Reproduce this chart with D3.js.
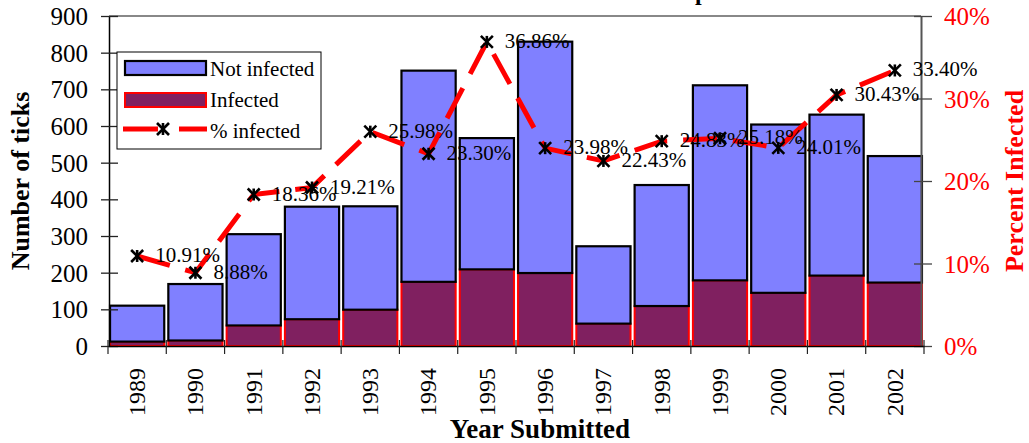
<!DOCTYPE html>
<html>
<head>
<meta charset="utf-8">
<script src="https://cdn.jsdelivr.net/npm/d3@7"></script>
<style>
  html, body { margin: 0; padding: 0; background: #fff; }
  svg { display: block; font-family: "Liberation Serif", "Times New Roman", serif; }
</style>
</head>
<body>
<svg id="chart" width="1029" height="443"></svg>
<script>
// Ticks submitted per year, how many tested infected, and the infection rate
const years = ["1989","1990","1991","1992","1993","1994","1995","1996","1997","1998","1999","2000","2001","2002"];
const infectedTicks = [12, 15, 56, 73, 99, 175, 209, 199, 61, 109, 179, 145, 192, 173];
const notInfectedTicks = [98, 154, 249, 307, 282, 576, 358, 631, 211, 330, 532, 459, 439, 345];
const percentInfected = [10.91, 8.88, 18.36, 19.21, 25.98, 23.30, 36.86, 23.98, 22.43, 24.83, 25.18, 24.01, 30.43, 33.40];
const countTicks = [0, 100, 200, 300, 400, 500, 600, 700, 800, 900];
const percentTicks = [0, 10, 20, 30, 40];

const svg = d3.select("#chart");
const plot = { left: 109, right: 921, top: 16, bottom: 346 };

const x = d3.scaleBand().domain(years).range([108, 924]).paddingInner(0.07).paddingOuter(0.035);
const y = d3.scaleLinear().domain([0, 900]).range([plot.bottom, plot.top]);
const yPct = d3.scaleLinear().domain([0, 40]).range([plot.bottom, plot.top]);

const rows = years.map((yr, i) => ({
  year: yr,
  infected: infectedTicks[i],
  notInfected: notInfectedTicks[i],
  pct: percentInfected[i]
}));

// Chart title (sits above the visible area)
svg.append("text")
  .attr("x", 542).attr("y", 0)
  .attr("text-anchor", "middle")
  .attr("font-weight", "bold").attr("font-size", 24)
  .text("Ticks Submitted and Percent Infected per Year");

// Top border of the plot area
svg.append("line")
  .attr("x1", plot.left).attr("x2", plot.right)
  .attr("y1", plot.top).attr("y2", plot.top)
  .attr("stroke", "#888").attr("stroke-width", 2);

// Infected (bottom) segments
svg.append("g").selectAll("rect").data(rows).join("rect")
  .attr("x", d => x(d.year))
  .attr("width", x.bandwidth())
  .attr("y", d => y(d.infected))
  .attr("height", d => y(0) - y(d.infected))
  .attr("fill", "#802060")
  .attr("stroke", "#ff0000").attr("stroke-width", 2);

// Not infected (upper) segments
svg.append("g").selectAll("rect").data(rows).join("rect")
  .attr("x", d => x(d.year))
  .attr("width", x.bandwidth())
  .attr("y", d => y(d.infected + d.notInfected))
  .attr("height", d => y(d.infected) - y(d.infected + d.notInfected))
  .attr("fill", "#8080ff")
  .attr("stroke", "#000").attr("stroke-width", 2.2);

// Left axis
const gl = svg.append("g").attr("transform", `translate(${plot.left},0)`)
  .call(d3.axisLeft(y).tickValues(countTicks).tickSize(8).tickSizeOuter(0).tickPadding(14));
gl.select(".domain").attr("stroke", "#000").attr("stroke-width", 1.5);
gl.selectAll(".tick line").attr("x2", 9).attr("x1", -8).attr("stroke", "#222").attr("stroke-width", 1.3);
gl.selectAll(".tick text").attr("font-size", 25).attr("font-family", "Liberation Serif, serif").attr("fill", "#000").attr("x", -21).attr("dy", "0.34em");

// Right axis
const gr = svg.append("g").attr("transform", `translate(${plot.right},0)`)
  .call(d3.axisRight(yPct).tickValues(percentTicks).tickFormat(d => d + "%").tickSize(8).tickSizeOuter(0));
gr.select(".domain").attr("stroke", "#555").attr("stroke-width", 2);
gr.selectAll(".tick line").attr("x1", -7).attr("x2", 11).attr("stroke", "#444").attr("stroke-width", 1.3);
gr.selectAll(".tick text").attr("font-size", 25).attr("font-family", "Liberation Serif, serif").attr("fill", "#ff0000").attr("x", 23).attr("dy", "0.34em");

// Bottom axis with ticks at category boundaries
const gb = svg.append("g").attr("transform", `translate(0,${plot.bottom})`)
  .call(d3.axisBottom(x).tickSize(0));
gb.select(".domain").attr("stroke", "#000").attr("stroke-width", 1.5);
gb.selectAll(".tick text")
  .attr("font-size", 24).attr("font-family", "Liberation Serif, serif").attr("fill", "#000")
  .attr("transform", "rotate(-90)")
  .attr("text-anchor", "end")
  .attr("x", -22).attr("y", 0).attr("dy", "0.33em");
const bounds = years.map(yr => x(yr) - x.step() * x.paddingInner() / 2).concat([x(years[years.length - 1]) + x.bandwidth() + x.step() * x.paddingInner() / 2]);
gb.append("g").selectAll("line").data(bounds).join("line")
  .attr("x1", d => d).attr("x2", d => d)
  .attr("y1", -6).attr("y2", 8)
  .attr("stroke", "#222").attr("stroke-width", 1.2);

// Percent infected line
const cx = d => x(d.year) + x.bandwidth() / 2;
const line = d3.line().x(cx).y(d => yPct(d.pct));
svg.append("path").datum(rows)
  .attr("d", line)
  .attr("fill", "none")
  .attr("stroke", "#ff0000").attr("stroke-width", 5)
  .attr("stroke-dasharray", "34,16");

// Asterisk markers
function asterisk(g, r) {
  g.append("line").attr("x1", 0).attr("x2", 0).attr("y1", -r).attr("y2", r);
  g.append("line").attr("x1", -r).attr("x2", r).attr("y1", -r).attr("y2", r);
  g.append("line").attr("x1", -r).attr("x2", r).attr("y1", r).attr("y2", -r);
  g.attr("stroke", "#000").attr("stroke-width", 2.6);
}
svg.append("g").selectAll("g").data(rows).join("g")
  .attr("transform", d => `translate(${cx(d)},${yPct(d.pct)})`)
  .each(function() { asterisk(d3.select(this), 6); });

// Value labels
svg.append("g").selectAll("text").data(rows).join("text")
  .attr("x", d => cx(d) + 18)
  .attr("y", d => yPct(d.pct) + 6)
  .attr("font-size", 21)
  .attr("fill", "#000")
  .text(d => d.pct.toFixed(2) + "%");

// Axis titles
svg.append("text")
  .attr("transform", `translate(29,${(plot.top + plot.bottom) / 2}) rotate(-90)`)
  .attr("text-anchor", "middle").attr("font-weight", "bold").attr("font-size", 26)
  .text("Number of ticks");
svg.append("text")
  .attr("transform", `translate(1023,${(plot.top + plot.bottom) / 2}) rotate(-90)`)
  .attr("text-anchor", "middle").attr("font-weight", "bold").attr("font-size", 26)
  .attr("fill", "#ff0000")
  .text("Percent Infected");
svg.append("text")
  .attr("x", 540).attr("y", 438)
  .attr("text-anchor", "middle").attr("font-weight", "bold").attr("font-size", 27)
  .text("Year Submitted");

// Legend
const lg = svg.append("g");
lg.append("rect").attr("x", 117).attr("y", 52).attr("width", 204).attr("height", 97)
  .attr("fill", "#fff").attr("stroke", "#000").attr("stroke-width", 1);
lg.append("rect").attr("x", 125).attr("y", 61).attr("width", 81).attr("height", 14)
  .attr("fill", "#8080ff").attr("stroke", "#000").attr("stroke-width", 2.2);
lg.append("rect").attr("x", 125).attr("y", 93).attr("width", 81).attr("height", 14)
  .attr("fill", "#802060").attr("stroke", "#ff0000").attr("stroke-width", 2);
lg.append("line").attr("x1", 123).attr("x2", 158).attr("y1", 129).attr("y2", 129)
  .attr("stroke", "#ff0000").attr("stroke-width", 5);
lg.append("line").attr("x1", 179).attr("x2", 207).attr("y1", 129).attr("y2", 129)
  .attr("stroke", "#ff0000").attr("stroke-width", 5);
asterisk(lg.append("g").attr("transform", "translate(163,129)"), 6);
const legendLabels = ["Not infected", "Infected", "% infected"];
lg.selectAll("text.lab").data(legendLabels).join("text")
  .attr("class", "lab")
  .attr("x", 210)
  .attr("y", (d, i) => 76 + i * 31)
  .attr("font-size", 21)
  .text(d => d);
</script>
</body>
</html>
